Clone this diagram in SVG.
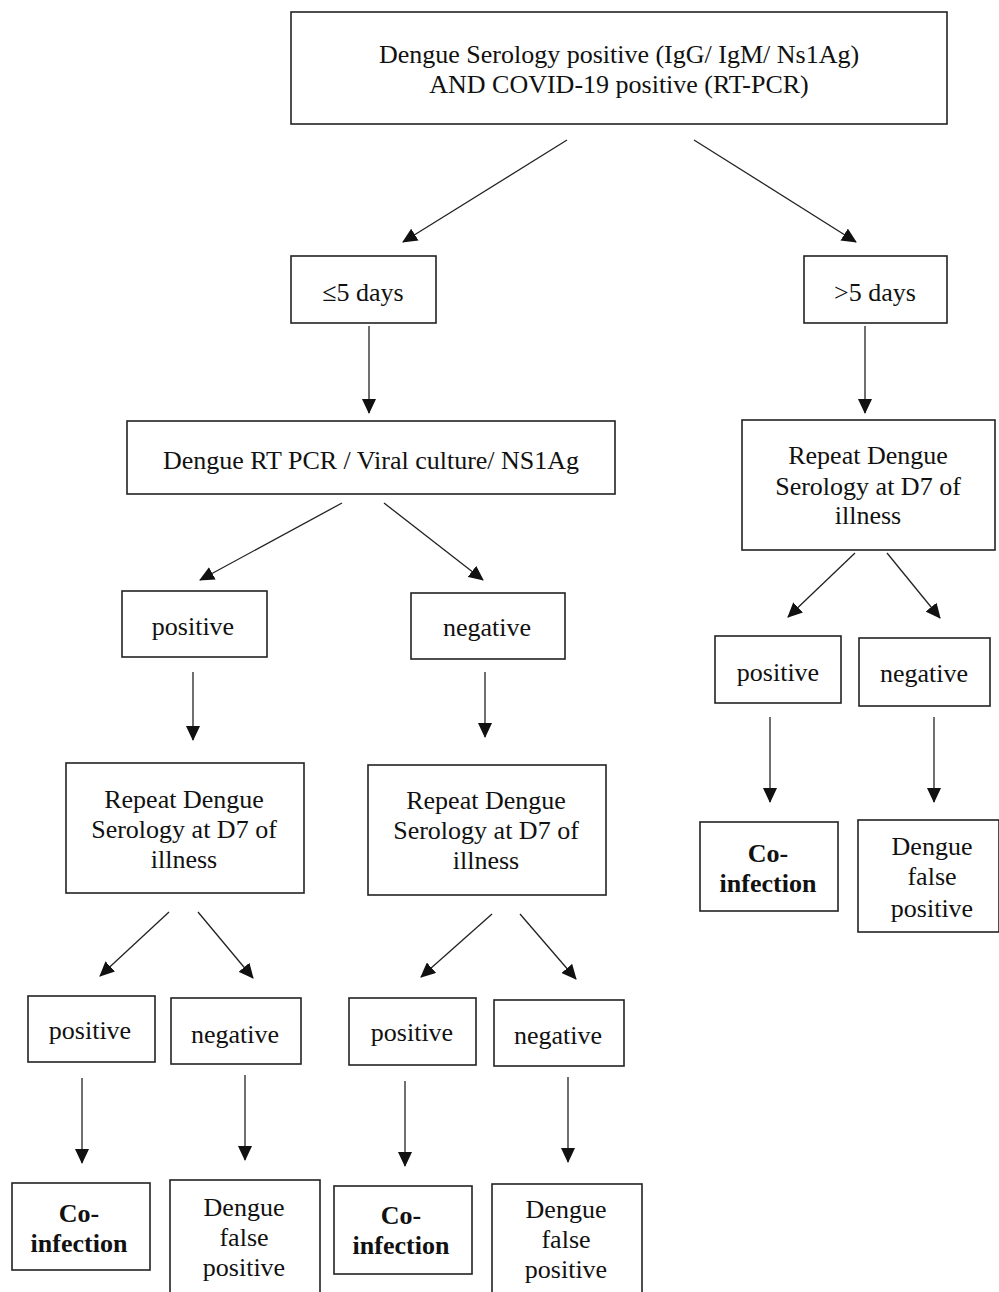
<svg xmlns="http://www.w3.org/2000/svg" width="999" height="1292" viewBox="0 0 999 1292">
<defs>
<marker id="ah" viewBox="0 0 15 14" refX="14" refY="7" markerWidth="15" markerHeight="14" markerUnits="userSpaceOnUse" orient="auto">
<path d="M0,0 L15,7 L0,14 Z" fill="#111"/>
</marker>
<style>
rect{fill:#fff;stroke:#222;stroke-width:1.6}
text{font-family:'Liberation Serif','Times New Roman',Times,serif;font-size:26px;fill:#111;text-anchor:middle}
.b{font-weight:bold}
#connectors line{stroke:#222;stroke-width:1.3;marker-end:url(#ah)}
</style>
</defs>
<rect x="0" y="0" width="999" height="1292" style="fill:#fff;stroke:none"/>
<g id="connectors">
<line x1="567" y1="140" x2="403" y2="242"/>
<line x1="694" y1="140" x2="856" y2="242"/>
<line x1="369" y1="326" x2="369" y2="413"/>
<line x1="865" y1="326" x2="865" y2="413"/>
<line x1="342" y1="503" x2="200" y2="580"/>
<line x1="384" y1="503" x2="483" y2="580"/>
<line x1="193" y1="672" x2="193" y2="740"/>
<line x1="485" y1="672" x2="485" y2="737"/>
<line x1="855" y1="553" x2="788" y2="617"/>
<line x1="887" y1="553" x2="940" y2="618"/>
<line x1="770" y1="717" x2="770" y2="802"/>
<line x1="934" y1="717" x2="934" y2="802"/>
<line x1="169" y1="912" x2="100" y2="976"/>
<line x1="198" y1="912" x2="253" y2="978"/>
<line x1="492" y1="914" x2="421" y2="977"/>
<line x1="520" y1="914" x2="576" y2="979"/>
<line x1="82" y1="1078" x2="82" y2="1163"/>
<line x1="245" y1="1075" x2="245" y2="1160"/>
<line x1="405" y1="1081" x2="405" y2="1166"/>
<line x1="568" y1="1077" x2="568" y2="1162"/>
</g>
<g font-family="Liberation Serif, serif">
<g id="n-top"><rect x="291" y="12" width="656" height="112"/>
<text x="619" y="63">Dengue Serology positive (IgG/ IgM/ Ns1Ag)</text>
<text x="619" y="93">AND COVID-19 positive (RT-PCR)</text></g>
<g id="n-le5"><rect x="291" y="256" width="145" height="67"/><text x="363" y="301">≤5 days</text></g>
<g id="n-gt5"><rect x="804" y="256" width="143" height="67"/><text x="875" y="301">&gt;5 days</text></g>
<g id="n-pcr"><rect x="127" y="421" width="488" height="73"/><text x="371" y="469">Dengue RT PCR / Viral culture/ NS1Ag</text></g>
<g id="n-rep-r"><rect x="742" y="420" width="253" height="130"/>
<text x="868" y="464">Repeat Dengue</text><text x="868" y="495">Serology at D7 of</text><text x="868" y="524">illness</text></g>
<g id="n-pos1"><rect x="122" y="591" width="145" height="66"/><text x="193" y="635">positive</text></g>
<g id="n-neg1"><rect x="411" y="593" width="154" height="66"/><text x="487" y="636">negative</text></g>
<g id="n-rep-l"><rect x="66" y="763" width="238" height="130"/>
<text x="184" y="808">Repeat Dengue</text><text x="184" y="838">Serology at D7 of</text><text x="184" y="868">illness</text></g>
<g id="n-rep-m"><rect x="368" y="765" width="238" height="130"/>
<text x="486" y="809">Repeat Dengue</text><text x="486" y="839">Serology at D7 of</text><text x="486" y="869">illness</text></g>
<g id="n-pos-r"><rect x="715" y="636" width="126" height="67"/><text x="778" y="681">positive</text></g>
<g id="n-neg-r"><rect x="859" y="638" width="131" height="68"/><text x="924" y="682">negative</text></g>
<g id="n-co-r"><rect x="700" y="822" width="138" height="89"/>
<text class="b" x="768" y="862">Co-</text><text class="b" x="768" y="892">infection</text></g>
<g id="n-fp-r"><rect x="858" y="820" width="141" height="112"/>
<text x="932" y="855">Dengue</text><text x="932" y="885">false</text><text x="932" y="917">positive</text></g>
<g id="n-pos2"><rect x="28" y="996" width="127" height="66"/><text x="90" y="1039">positive</text></g>
<g id="n-neg2"><rect x="171" y="998" width="130" height="66"/><text x="235" y="1043">negative</text></g>
<g id="n-pos3"><rect x="349" y="998" width="127" height="67"/><text x="412" y="1041">positive</text></g>
<g id="n-neg3"><rect x="494" y="1000" width="130" height="66"/><text x="558" y="1044">negative</text></g>
<g id="n-co1"><rect x="12" y="1183" width="138" height="87"/>
<text class="b" x="79" y="1222">Co-</text><text class="b" x="79" y="1252">infection</text></g>
<g id="n-fp1"><rect x="170" y="1180" width="150" height="118"/>
<text x="244" y="1216">Dengue</text><text x="244" y="1246">false</text><text x="244" y="1276">positive</text></g>
<g id="n-co2"><rect x="334" y="1186" width="138" height="88"/>
<text class="b" x="401" y="1224">Co-</text><text class="b" x="401" y="1254">infection</text></g>
<g id="n-fp2"><rect x="492" y="1184" width="150" height="114"/>
<text x="566" y="1218">Dengue</text><text x="566" y="1248">false</text><text x="566" y="1278">positive</text></g>
</g>
</svg>
